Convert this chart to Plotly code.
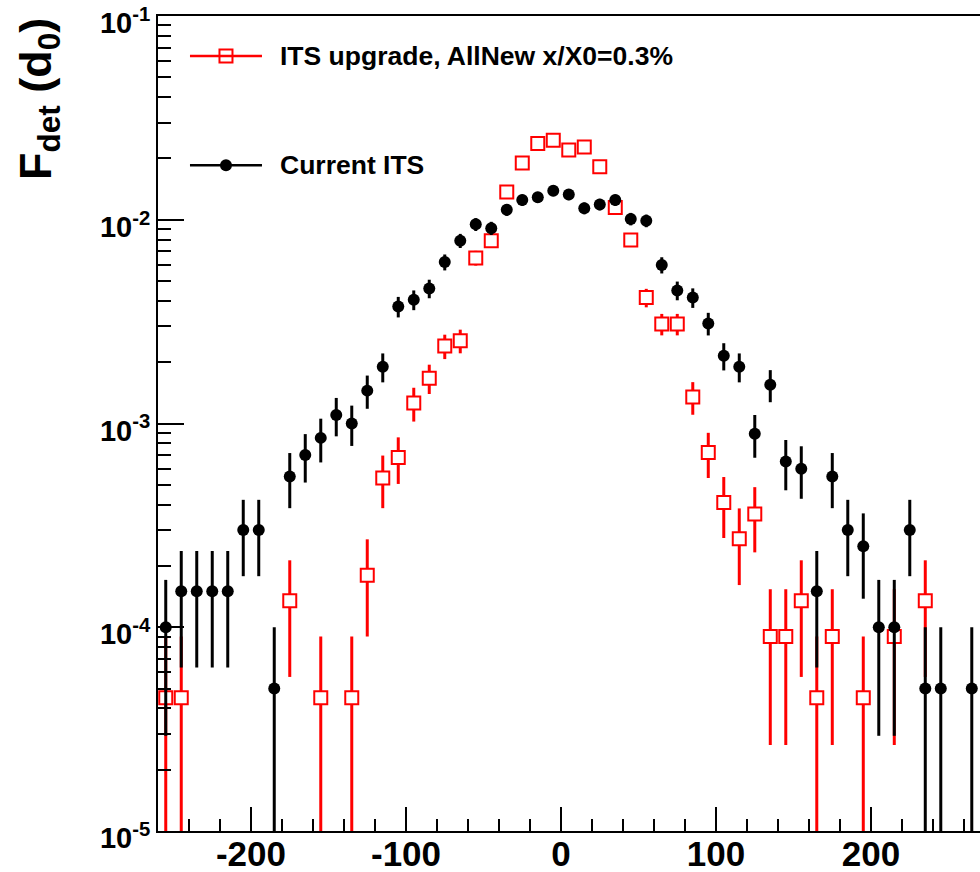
import plotly.graph_objects as go

# ---------------- data ----------------
upg_x = [-255, -245, -175, -155, -135, -125, -115, -105, -95, -85, -75, -65, -55, -45, -35, -25, -15, -5,
         5, 15, 25, 35, 45, 55, 65, 75, 85, 95, 105, 115, 125, 135, 145, 155, 165, 175, 195, 215, 235]
upg_y = [4.5e-5, 4.5e-5, 1.35e-4, 4.5e-5, 4.5e-5, 1.8e-4, 5.4e-4, 6.8e-4, 1.26e-3, 1.67e-3, 2.4e-3, 2.55e-3,
         6.5e-3, 7.9e-3, 1.37e-2, 1.9e-2, 2.37e-2, 2.46e-2,
         2.2e-2, 2.28e-2, 1.82e-2, 1.15e-2, 7.95e-3, 4.15e-3, 3.08e-3, 3.08e-3, 1.35e-3, 7.2e-4, 4.1e-4,
         2.72e-4, 3.6e-4, 9e-5, 9e-5, 1.35e-4, 4.5e-5, 9e-5, 4.5e-5, 9e-5, 1.35e-4]
upg_err = [4.5e-5, 4.5e-5, 7.8e-5, 4.5e-5, 4.5e-5, 9.0e-5, 1.56e-4, 1.75e-4, 2.38e-4, 2.74e-4, 3.29e-4, 3.39e-4,
           5.41e-4, 5.96e-4, 7.85e-4, 9.25e-4, 1.03e-3, 1.05e-3,
           9.95e-4, 1.01e-3, 9.05e-4, 7.19e-4, 5.98e-4, 4.32e-4, 3.72e-4, 3.72e-4, 2.46e-4, 1.8e-4, 1.36e-4,
           1.11e-4, 1.27e-4, 6.36e-5, 6.36e-5, 7.8e-5, 4.5e-5, 6.36e-5, 4.5e-5, 6.36e-5, 7.8e-5]

cur_x = [-255, -245, -235, -225, -215, -205, -195, -185, -175, -165, -155, -145, -135, -125, -115, -105, -95,
         -85, -75, -65, -55, -45, -35, -25, -15, -5, 5, 15, 25, 35, 45, 55, 65, 75, 85, 95, 105, 115, 125,
         135, 145, 155, 165, 175, 185, 195, 205, 215, 225, 235, 245, 265]
cur_y = [1e-4, 1.5e-4, 1.5e-4, 1.5e-4, 1.5e-4, 3e-4, 3e-4, 5e-5, 5.5e-4, 7e-4, 8.5e-4, 1.1e-3, 1.0e-3,
         1.45e-3, 1.9e-3, 3.75e-3, 4.05e-3, 4.6e-3, 6.2e-3, 7.9e-3, 9.5e-3, 9.1e-3, 1.12e-2, 1.25e-2,
         1.29e-2, 1.39e-2, 1.33e-2, 1.14e-2, 1.19e-2, 1.25e-2, 1.01e-2, 9.9e-3, 6.0e-3, 4.5e-3, 4.15e-3,
         3.1e-3, 2.15e-3, 1.9e-3, 8.9e-4, 1.55e-3, 6.5e-4, 6.0e-4, 1.5e-4, 5.5e-4, 3e-4, 2.5e-4, 1e-4,
         1e-4, 3e-4, 5e-5, 5e-5, 5e-5]
cur_err = [7.07e-5, 8.66e-5, 8.66e-5, 8.66e-5, 8.66e-5, 1.22e-4, 1.22e-4, 5e-5, 1.66e-4, 1.87e-4, 2.06e-4,
           2.35e-4, 2.24e-4, 2.69e-4, 3.08e-4, 4.33e-4, 4.5e-4, 4.8e-4, 5.57e-4, 6.28e-4, 6.89e-4, 6.75e-4,
           7.48e-4, 7.91e-4, 8.03e-4, 8.34e-4, 8.15e-4, 7.55e-4, 7.71e-4, 7.91e-4, 7.11e-4, 7.04e-4, 5.48e-4,
           4.74e-4, 4.56e-4, 3.94e-4, 3.28e-4, 3.08e-4, 2.11e-4, 2.78e-4, 1.8e-4, 1.73e-4, 8.66e-5, 1.66e-4,
           1.22e-4, 1.12e-4, 7.07e-5, 7.07e-5, 1.22e-4, 5e-5, 5e-5, 5e-5]

upg_label = "ITS upgrade, AllNew x/X0=0.3%"
cur_label = "Current ITS"
x_ticks = [-200, -100, 0, 100, 200]
x_ticktext = ["-200", "-100", "0", "100", "200"]
y_ticks = [1e-5, 1e-4, 1e-3, 1e-2, 1e-1]
y_ticktext = ["10<sup>-5</sup>", "10<sup>-4</sup>", "10<sup>-3</sup>", "10<sup>-2</sup>", "10<sup>-1</sup>"]
y_minor = [m * d for d in [1e-5, 1e-4, 1e-3, 1e-2] for m in range(2, 10)]

FONT = "Liberation Sans, Arial, sans-serif"
RED = "#ff0000"

fig = go.Figure()

fig.add_trace(go.Scatter(
    x=upg_x, y=upg_y, mode="markers", name=upg_label, showlegend=False,
    marker=dict(symbol="square", size=13, color="white", line=dict(color=RED, width=2)),
    error_y=dict(type="data", array=upg_err, color=RED, thickness=3, width=0),
))
fig.add_trace(go.Scatter(
    x=cur_x, y=cur_y, mode="markers", name=cur_label, showlegend=False,
    marker=dict(symbol="circle", size=12, color="black"),
    error_y=dict(type="data", array=cur_err, color="black", thickness=3, width=0),
))

# custom legend glyphs on an overlay axis spanning [0,1]
lx0, lx1, lxm = 0.0389, 0.1265, 0.0827
ly_upg, ly_cur = 0.951, 0.817
fig.add_trace(go.Scatter(x=[lx0, lx1], y=[ly_upg, ly_upg], mode="lines", xaxis="x2", yaxis="y2",
                         line=dict(color=RED, width=2.5), showlegend=False, hoverinfo="skip"))
fig.add_trace(go.Scatter(x=[lxm], y=[ly_upg], mode="markers", xaxis="x2", yaxis="y2",
                         marker=dict(symbol="square-open", size=13, color=RED, line=dict(width=2)),
                         showlegend=False, hoverinfo="skip"))
fig.add_trace(go.Scatter(x=[lx0, lx1], y=[ly_cur, ly_cur], mode="lines", xaxis="x2", yaxis="y2",
                         line=dict(color="black", width=2.5), showlegend=False, hoverinfo="skip"))
fig.add_trace(go.Scatter(x=[lxm], y=[ly_cur], mode="markers", xaxis="x2", yaxis="y2",
                         marker=dict(symbol="circle", size=12, color="black"),
                         showlegend=False, hoverinfo="skip"))

fig.add_annotation(x=0.146, y=ly_upg, xref="paper", yref="paper", text=upg_label, showarrow=False,
                   xanchor="left", yanchor="middle", font=dict(family=FONT, size=26.5, color="black", weight="bold"))
fig.add_annotation(x=0.146, y=ly_cur, xref="paper", yref="paper", text=cur_label, showarrow=False,
                   xanchor="left", yanchor="middle", font=dict(family=FONT, size=26.5, color="black", weight="bold"))

# y-axis title
fig.add_annotation(x=-0.146, y=1.0, xref="paper", yref="paper", text="F<sub>det</sub> (d<sub>0</sub>)",
                   textangle=-90, showarrow=False, xanchor="center", yanchor="top",
                   font=dict(family=FONT, size=45, color="black", weight="bold"))

fig.update_layout(
    width=980, height=872,
    margin=dict(l=158, r=0, t=16, b=41),
    paper_bgcolor="white", plot_bgcolor="white",
    showlegend=False,
    xaxis=dict(range=[-260, 270.3], tickmode="array", tickvals=x_ticks, ticktext=x_ticktext,
               ticks="inside", ticklen=24, tickwidth=1.5, tickcolor="black", ticklabelstandoff=-9,
               ticklabeloverflow="allow",
               minor=dict(dtick=20, tick0=0, ticks="inside", ticklen=12, tickwidth=1.5, tickcolor="black"),
               showline=True, linewidth=2, linecolor="black", mirror=True,
               showgrid=False, zeroline=False, automargin=False,
               tickfont=dict(family=FONT, size=35, color="black", weight="bold")),
    yaxis=dict(type="log", range=[-5.0005, -0.9995], tickmode="array", tickvals=y_ticks, ticktext=y_ticktext,
               ticks="inside", ticklen=26, tickwidth=1.5, tickcolor="black",
               ticklabeloverflow="allow", ticklabelshift=7,
               minor=dict(tickmode="array", tickvals=y_minor, ticks="inside", ticklen=13,
                          tickwidth=1.5, tickcolor="black"),
               showline=True, linewidth=2, linecolor="black", mirror=False,
               showgrid=False, zeroline=False, automargin=False,
               tickfont=dict(family=FONT, size=29, color="black", weight="bold")),
    xaxis2=dict(overlaying="x", range=[0, 1], visible=False, anchor="y2"),
    yaxis2=dict(overlaying="y", range=[0, 1], visible=False, anchor="x2"),
)

fig.write_html("out.html")
